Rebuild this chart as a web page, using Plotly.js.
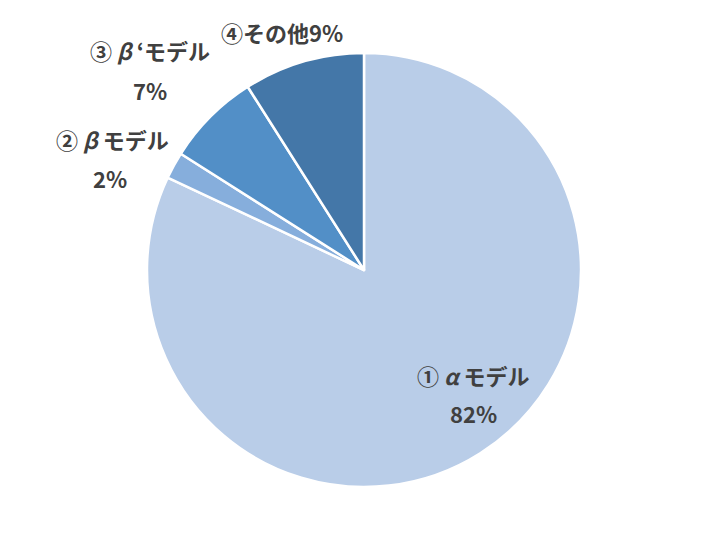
<!DOCTYPE html>
<html>
<head>
<meta charset="utf-8">
<script src="https://cdn.plot.ly/plotly-3.0.1.min.js"></script>
<style>html,body{margin:0;padding:0;background:#fff;}#chart{width:728px;height:540px;}</style>
</head>
<body>
<div id="chart"></div>
<script>
// ---- data ----
const categories = ["①αモデル", "②βモデル", "③β‘モデル", "④その他"];
const shares = [82, 2, 7, 9];
const sliceColors = ["#B9CDE8", "#86AEDC", "#528FC7", "#4477A8"];

// ---- label layout (pixel centres of the name line / percent line) ----
const W = 728, H = 540, MT = 53, MB = 53;
const labelSpots = [
  { name: [473, 375], pct: [473, 413], oneLine: false },
  { name: [112, 139], pct: [110, 178], oneLine: false },
  { name: [150, 50],  pct: [150, 90],  oneLine: false },
  { name: [282, 32],  pct: null,       oneLine: true }
];

const px2paper = (p) => ({ x: p[0] / W, y: (H - MB - p[1]) / (H - MT - MB) });
const styl = (s) => s.replace(/([①②③④])/g, "$1 ").replace(/([αβ])/g, "<i>$1</i> ");
const labelFont = { family: "Noto Sans CJK JP, Noto Sans, sans-serif", size: 22, color: "#404040", weight: "bold" };

const annotations = [];
categories.forEach((cat, i) => {
  const spot = labelSpots[i];
  const pctText = shares[i] + "%";
  const a = px2paper(spot.name);
  annotations.push({
    xref: "paper", yref: "paper", x: a.x, y: a.y,
    xanchor: "center", yanchor: "middle", showarrow: false,
    text: spot.oneLine ? cat + pctText : styl(cat),
    font: labelFont
  });
  if (!spot.oneLine) {
    const b = px2paper(spot.pct);
    annotations.push({
      xref: "paper", yref: "paper", x: b.x, y: b.y,
      xanchor: "center", yanchor: "middle", showarrow: false,
      text: pctText, font: labelFont
    });
  }
});

const trace = {
  type: "pie",
  labels: categories,
  values: shares,
  sort: false,
  direction: "clockwise",
  rotation: 0,
  marker: { colors: sliceColors, line: { color: "#ffffff", width: 2.5 } },
  textinfo: "none",
  automargin: false,
  showlegend: false,
  hoverinfo: "none"
};

const layout = {
  width: W,
  height: H,
  margin: { l: 0, r: 0, t: MT, b: MB },
  paper_bgcolor: "#ffffff",
  showlegend: false,
  annotations: annotations
};

Plotly.newPlot("chart", [trace], layout, { displayModeBar: false, staticPlot: true });
</script>
</body>
</html>
